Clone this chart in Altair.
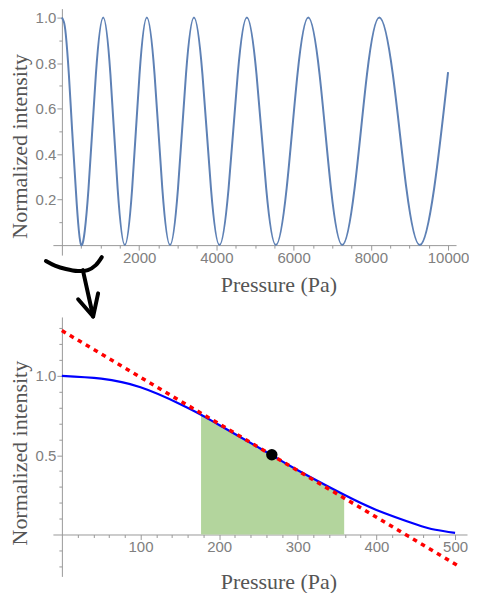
import altair as alt
import pandas as pd

# ---- top panel: full pressure sweep ----
top_p = [0, 50, 100, 180, 267, 359, 500, 690, 880, 1070, 1257, 1443, 1630, 1820, 2010, 2200,
         2400, 2600, 2800, 3007, 3213, 3420, 3640, 3860, 4080, 4317, 4553, 4790,
         5040, 5290, 5540, 5820, 6100, 6380, 6673, 6967, 7260, 7580, 7900, 8220,
         8570, 8920, 9270, 9640, 10000]
top_i = [1.0, 0.982, 0.928, 0.752, 0.5, 0.25, 0.0, 0.25, 0.75, 1.0, 0.75, 0.25, 0.0, 0.25, 0.75, 1.0,
         0.75, 0.25, 0.0, 0.25, 0.75, 1.0, 0.75, 0.25, 0.0, 0.25, 0.75, 1.0,
         0.75, 0.25, 0.0, 0.25, 0.75, 1.0, 0.75, 0.25, 0.0, 0.25, 0.75, 1.0,
         0.75, 0.25, 0.0, 0.25, 0.76]

# ---- bottom panel: zoom on 0-500 Pa ----
bot_p = [0, 50, 100, 150, 177, 200, 250, 267, 300, 359, 400, 450, 475, 500]
bot_i = [1.0, 0.982, 0.928, 0.823, 0.755, 0.69, 0.549, 0.5, 0.405, 0.25, 0.155, 0.065, 0.03, 0.01]
band_from, band_to = 177, 359
tangent_p = [0, 504]
tangent_i = [1.285, -0.197]
point_p = [267]
point_i = [0.503]

# ---- annotation (zoom bracket + arrow), in top-panel data units ----
arc_p = [-413, -181, 103, 413, 672, 878, 1034]
arc_i = [-0.070, -0.090, -0.105, -0.114, -0.110, -0.088, -0.053]
arrow_p = [543, 809, 421, 809, 938]
arrow_i = [-0.110, -0.314, -0.238, -0.314, -0.212]
arrow_g = ["shaft", "shaft", "head", "head", "head"]

# ---- ticks / labels ----
top_x_ticks = [500, 1000, 1500, 2000, 2500, 3000, 3500, 4000, 4500, 5000, 5500, 6000,
               6500, 7000, 7500, 8000, 8500, 9000, 9500, 10000]
top_x_labels = [2000, 4000, 6000, 8000, 10000]
top_y_ticks = [0.1, 0.2, 0.3, 0.4, 0.5, 0.6, 0.7, 0.8, 0.9, 1.0]
top_y_labels = ["0.2", "0.4", "0.6", "0.8", "1.0"]
bot_x_ticks = [20, 40, 60, 80, 100, 120, 140, 160, 180, 200, 220, 240, 260, 280, 300,
               320, 340, 360, 380, 400, 420, 440, 460, 480, 500]
bot_x_labels = [100, 200, 300, 400, 500]
bot_y_ticks = [-0.2, -0.1, 0.1, 0.2, 0.3, 0.4, 0.5, 0.6, 0.7, 0.8, 0.9, 1.0, 1.1, 1.2, 1.3]
bot_y_labels = ["0.5", "1.0"]

AXIS_GRAY = "#999999"
LABEL_GRAY = "#808080"
TITLE_GRAY = "#555555"
SERIF = "Liberation Serif, Times New Roman, DejaVu Serif, serif"
SANS = "Liberation Sans, Arial, sans-serif"


def int_test(labels):
    return "indexof([" + ",".join(str(v) for v in labels) + "], datum.value) >= 0"


def float_test(labels):
    return "indexof([" + ",".join("'" + s + "'" for s in labels) + "], format(datum.value, '.1f')) >= 0"


def x_axis(ticks, test, title, tx, ty, offset):
    return alt.Axis(
        values=ticks, grid=False, offset=offset,
        labelExpr=f"{test} ? format(datum.value, 'd') : ''",
        tickSize={"condition": {"test": test, "value": 5}, "value": 3},
        domainColor=AXIS_GRAY, tickColor=AXIS_GRAY, labelColor=LABEL_GRAY,
        labelFont=SANS, labelFontSize=15, labelPadding=0,
        labelOverlap=False, labelFlush=False,
        title=title, titleFont=SERIF, titleFontSize=22,
        titleFontWeight="normal", titleColor=TITLE_GRAY,
        titleX=tx, titleY=ty, titleBaseline="alphabetic", titleAlign="center",
    )


def y_axis(ticks, test, title, tx, ty, offset):
    return alt.Axis(
        values=ticks, grid=False, offset=offset,
        labelExpr=f"{test} ? format(datum.value, '.1f') : ''",
        tickSize={"condition": {"test": test, "value": 5}, "value": 3},
        domainColor=AXIS_GRAY, tickColor=AXIS_GRAY, labelColor=LABEL_GRAY,
        labelFont=SANS, labelFontSize=15, labelPadding=1,
        labelOverlap=False, labelFlush=False,
        title=title, titleFont=SERIF, titleFontSize=22,
        titleFontWeight="normal", titleColor=TITLE_GRAY,
        titleX=tx, titleY=ty, titleBaseline="middle", titleAlign="center", titleAngle=270,
    )


# top panel scales/axes shared by every layer
top_xs = alt.Scale(domain=[-232.6, 10206], nice=False, zero=False)
top_ys = alt.Scale(domain=[-0.0439, 1.0395], nice=False, zero=False)
top_xa = x_axis(top_x_ticks, int_test(top_x_labels), "Pressure (Pa)", 226, 46, -10)
top_ya = y_axis(top_y_ticks, float_test(top_y_labels), "Normalized intensity", -42.5, 137.5, -9)
TX = alt.X("p:Q", scale=top_xs, axis=top_xa)
TY = alt.Y("v:Q", scale=top_ys, axis=top_ya)

top_df = pd.DataFrame({"p": top_p, "v": top_i})
arc_df = pd.DataFrame({"p": arc_p, "v": arc_i, "o": list(range(len(arc_p)))})
arrow_df = pd.DataFrame({"p": arrow_p, "v": arrow_i, "g": arrow_g, "o": list(range(len(arrow_p)))})

top_line = alt.Chart(top_df).mark_line(color="#5e81b5", strokeWidth=2, interpolate="natural").encode(
    x=TX, y=TY)
arc = alt.Chart(arc_df).mark_line(color="black", strokeWidth=4, interpolate="cardinal",
                                  strokeCap="round").encode(x=TX, y=TY, order="o:Q")
arrow = alt.Chart(arrow_df).mark_line(color="black", strokeWidth=4, strokeCap="round",
                                      strokeJoin="round").encode(
    x=TX, y=TY, detail="g:N", order="o:Q")
top = alt.layer(top_line, arc, arrow).properties(width=404, height=247)

# bottom panel scales/axes shared by every layer
bot_xs = alt.Scale(domain=[-11.4, 515.2], nice=False, zero=False)
bot_ys = alt.Scale(domain=[-0.264, 1.371], nice=False, zero=False)
bot_xa = x_axis(bot_x_ticks, int_test(bot_x_labels), "Pressure (Pa)", 226, 54, -42)
bot_ya = y_axis(bot_y_ticks, float_test(bot_y_labels), "Normalized intensity", -42.5, 136, -9)
BX = alt.X("p:Q", scale=bot_xs, axis=bot_xa)
BY = alt.Y("v:Q", scale=bot_ys, axis=bot_ya)

bot_df = pd.DataFrame({"p": bot_p, "v": bot_i})
band_df = bot_df[(bot_df.p >= band_from) & (bot_df.p <= band_to)].copy()
band_df["z"] = 0.0
tan_df = pd.DataFrame({"p": tangent_p, "v": tangent_i})
pt_df = pd.DataFrame({"p": point_p, "v": point_i})

band = alt.Chart(band_df).mark_area(color="#b3d59d", opacity=1, interpolate="natural").encode(
    x=BX, y=BY, y2="z:Q")
bot_line = alt.Chart(bot_df).mark_line(color="#0000ff", strokeWidth=2.2, interpolate="natural").encode(
    x=BX, y=BY)
tan = alt.Chart(tan_df).mark_line(color="#ff0000", strokeWidth=3.5, strokeDash=[4.5, 4.8]).encode(
    x=BX, y=BY)
pt = alt.Chart(pt_df).mark_point(filled=True, color="black", size=130, opacity=1).encode(
    x=BX, y=BY)
bottom = alt.layer(band, bot_line, tan, pt).properties(width=415, height=260)

chart = alt.vconcat(top, bottom, spacing=62, bounds="flush").properties(
    padding=0, background="white"
).configure_view(stroke=None)

chart.save("out.html", embed_options={"renderer": "svg", "actions": False})
